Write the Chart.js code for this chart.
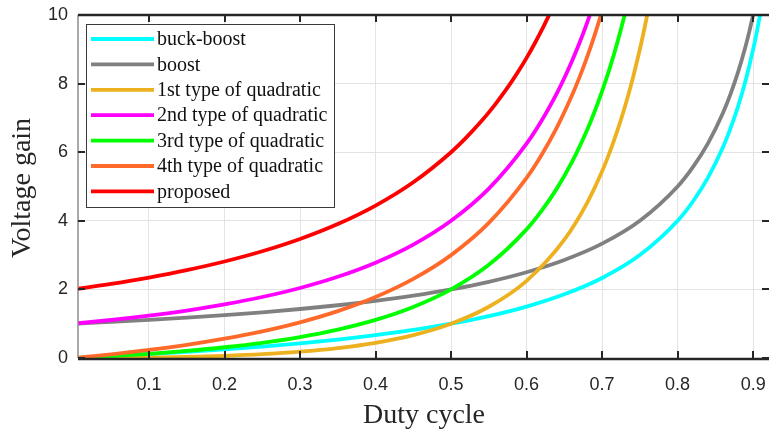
<!DOCTYPE html>
<html>
<head>
<meta charset="utf-8">
<script src="https://cdn.jsdelivr.net/npm/chart.js@4.4.0/dist/chart.umd.min.js"></script>
<style>
  html, body { margin: 0; background: #fff; }
  #wrap { width: 769px; height: 432px; }
</style>
</head>
<body>
<div id="wrap"><canvas id="gainChart" width="769" height="432"></canvas></div>
<script>
// tick labels
const xTicks = [0.1, 0.2, 0.3, 0.4, 0.5, 0.6, 0.7, 0.8, 0.9];
const yTicks = [0, 2, 4, 6, 8, 10];

const seriesNames = ['buck-boost', 'boost', '1st type of quadratic', '2nd type of quadratic',
                     '3rd type of quadratic', '4th type of quadratic', 'proposed'];
const seriesColors = ['#00FFFF', '#808080', '#EDB120', '#FF00FF', '#00FF00', '#FF6A2B', '#FF0000'];

// values (duty cycle -> voltage gain)
const dutyBuckBoost = [0, 0.05, 0.1, 0.15, 0.2, 0.25, 0.3, 0.35, 0.4, 0.45, 0.5, 0.55, 0.6, 0.65, 0.7, 0.75, 0.8, 0.82, 0.84, 0.86, 0.87, 0.88, 0.89, 0.9, 0.905, 0.91];
const gainBuckBoost = [0, 0.053, 0.111, 0.176, 0.25, 0.333, 0.429, 0.538, 0.667, 0.818, 1.0, 1.222, 1.5, 1.857, 2.333, 3.0, 4.0, 4.556, 5.25, 6.143, 6.692, 7.333, 8.091, 9.0, 9.526, 10.11];

const dutyBoost = [0, 0.05, 0.1, 0.15, 0.2, 0.25, 0.3, 0.35, 0.4, 0.45, 0.5, 0.55, 0.6, 0.65, 0.7, 0.75, 0.8, 0.82, 0.84, 0.86, 0.87, 0.88, 0.89, 0.895, 0.9];
const gainBoost = [1.0, 1.053, 1.111, 1.176, 1.25, 1.333, 1.429, 1.538, 1.667, 1.818, 2.0, 2.222, 2.5, 2.857, 3.333, 4.0, 5.0, 5.556, 6.25, 7.143, 7.692, 8.333, 9.091, 9.524, 10.0];

const dutyQuad1 = [0, 0.05, 0.1, 0.15, 0.2, 0.25, 0.3, 0.35, 0.4, 0.45, 0.5, 0.55, 0.6, 0.65, 0.68, 0.7, 0.71, 0.72, 0.73, 0.74, 0.75, 0.755, 0.76];
const gainQuad1 = [0, 0.003, 0.012, 0.031, 0.063, 0.111, 0.184, 0.29, 0.444, 0.669, 1.0, 1.494, 2.25, 3.449, 4.516, 5.444, 5.994, 6.612, 7.311, 8.1, 9.0, 9.497, 10.03];

const dutyQuad2 = [0, 0.05, 0.1, 0.15, 0.2, 0.25, 0.3, 0.35, 0.4, 0.45, 0.5, 0.55, 0.6, 0.62, 0.64, 0.65, 0.66, 0.67, 0.68, 0.685];
const gainQuad2 = [1.0, 1.108, 1.235, 1.384, 1.563, 1.778, 2.041, 2.367, 2.778, 3.306, 4.0, 4.938, 6.25, 6.925, 7.716, 8.163, 8.651, 9.183, 9.766, 10.08];

const dutyQuad3 = [0, 0.05, 0.1, 0.15, 0.2, 0.25, 0.3, 0.35, 0.4, 0.45, 0.5, 0.55, 0.6, 0.62, 0.64, 0.66, 0.68, 0.69, 0.7, 0.71, 0.72, 0.73];
const gainQuad3 = [0, 0.055, 0.123, 0.208, 0.313, 0.444, 0.612, 0.828, 1.111, 1.488, 2.0, 2.716, 3.75, 4.294, 4.938, 5.709, 6.641, 7.18, 7.778, 8.442, 9.184, 10.01];

const dutyQuad4 = [0, 0.05, 0.1, 0.15, 0.2, 0.25, 0.3, 0.35, 0.4, 0.45, 0.5, 0.55, 0.6, 0.62, 0.64, 0.66, 0.67, 0.68, 0.69, 0.7];
const gainQuad4 = [0, 0.108, 0.235, 0.384, 0.563, 0.778, 1.041, 1.367, 1.778, 2.306, 3.0, 3.938, 5.25, 5.925, 6.716, 7.651, 8.183, 8.766, 9.406, 10.11];

const dutyProposed = [0, 0.05, 0.1, 0.15, 0.2, 0.25, 0.3, 0.35, 0.4, 0.45, 0.5, 0.52, 0.54, 0.55, 0.56, 0.57, 0.58, 0.59, 0.6, 0.61, 0.62, 0.63, 0.635];
const gainProposed = [2.0, 2.161, 2.346, 2.561, 2.813, 3.111, 3.469, 3.905, 4.444, 5.124, 6.0, 6.424, 6.9, 7.16, 7.438, 7.734, 8.05, 8.388, 8.75, 9.139, 9.557, 10.01, 10.24];

const dutyArrays = [dutyBuckBoost, dutyBoost, dutyQuad1, dutyQuad2, dutyQuad3, dutyQuad4, dutyProposed];
const gainArrays = [gainBuckBoost, gainBoost, gainQuad1, gainQuad2, gainQuad3, gainQuad4, gainProposed];

const axisColor = '#262626';
const tickFont = { family: '"Liberation Sans", Arial, sans-serif', size: 18 };

// frame, inward ticks, axis titles and the boxed legend inside the plot
const framePlugin = {
  id: 'frame',
  afterDraw(chart) {
    const ctx = chart.ctx;
    const { left, right, top, bottom } = chart.chartArea;
    const xs = chart.scales.x, ys = chart.scales.y;
    ctx.save();

    // left edge (grey), top / bottom (dark)
    ctx.strokeStyle = '#8c8c8c';
    ctx.lineWidth = 1.5;
    ctx.beginPath(); ctx.moveTo(left, top); ctx.lineTo(left, bottom); ctx.stroke();
    ctx.strokeStyle = axisColor;
    ctx.lineWidth = 2.5;
    ctx.beginPath();
    ctx.moveTo(left, bottom + 1); ctx.lineTo(right, bottom + 1);
    ctx.moveTo(left, top); ctx.lineTo(right, top);
    ctx.stroke();

    // ticks pointing inward
    ctx.lineWidth = 2;
    ctx.beginPath();
    xTicks.forEach(v => {
      const px = Math.round(xs.getPixelForValue(v));
      ctx.moveTo(px, bottom); ctx.lineTo(px, bottom - 7);
      ctx.moveTo(px, top); ctx.lineTo(px, top + 7);
    });
    yTicks.forEach(v => {
      const py = Math.round(ys.getPixelForValue(v));
      ctx.moveTo(left, py); ctx.lineTo(left + 7, py);
      ctx.moveTo(right, py); ctx.lineTo(right - 7, py);
    });
    ctx.stroke();

    // axis titles
    ctx.fillStyle = axisColor;
    ctx.font = '28px "Liberation Serif", "Times New Roman", serif';
    ctx.textAlign = 'center';
    ctx.textBaseline = 'middle';
    ctx.fillText('Duty cycle', 424, 416);
    ctx.save();
    ctx.translate(23, 188);
    ctx.rotate(-Math.PI / 2);
    ctx.fillText('Voltage gain', 0, 0);
    ctx.restore();

    // legend
    ctx.fillStyle = '#fff';
    ctx.fillRect(86, 24, 248, 183);
    ctx.strokeStyle = '#3a3a3a';
    ctx.lineWidth = 1;
    ctx.strokeRect(86.5, 24.5, 248, 183);
    ctx.font = '20px "Liberation Serif", "Times New Roman", serif';
    ctx.textAlign = 'left';
    seriesNames.forEach((name, i) => {
      const y = 39 + i * 25.4;
      ctx.strokeStyle = seriesColors[i];
      ctx.lineWidth = 3.8;
      ctx.beginPath(); ctx.moveTo(91, y); ctx.lineTo(154, y); ctx.stroke();
      ctx.fillStyle = '#111';
      ctx.fillText(name, 157, y + 1);
    });
    ctx.restore();
  }
};

new Chart(document.getElementById('gainChart'), {
  type: 'line',
  data: {
    datasets: seriesNames.map((name, i) => ({
      label: name,
      data: dutyArrays[i].map((d, k) => ({ x: d, y: gainArrays[i][k] })),
      borderColor: seriesColors[i],
      backgroundColor: seriesColors[i],
      borderWidth: 3.8,
      pointRadius: 0,
      fill: false,
      cubicInterpolationMode: 'monotone',
      order: seriesNames.length - i
    }))
  },
  options: {
    responsive: false,
    animation: false,
    devicePixelRatio: 1,
    layout: { padding: { top: 15, right: 0, left: 0, bottom: 0 } },
    plugins: {
      legend: { display: false },
      tooltip: { enabled: false }
    },
    scales: {
      x: {
        type: 'linear',
        min: 0.006,
        max: 0.921,
        afterBuildTicks: s => { s.ticks = xTicks.map(v => ({ value: v })); },
        afterFit: s => { s.height = 74; s.paddingLeft = 0; s.paddingRight = 0; },
        ticks: {
          font: tickFont, color: axisColor, padding: 16,
          maxRotation: 0, autoSkip: false,
          callback: v => String(v)
        },
        grid: { color: '#e3e3e3', lineWidth: 1, drawTicks: false },
        border: { display: false }
      },
      y: {
        min: 0,
        max: 10,
        afterBuildTicks: s => { s.ticks = yTicks.map(v => ({ value: v })); },
        afterFit: s => { s.width = 78; s.paddingTop = 0; s.paddingBottom = 0; },
        ticks: { font: tickFont, color: axisColor, padding: 10, callback: v => String(v) },
        grid: { color: '#e3e3e3', lineWidth: 1, drawTicks: false },
        border: { display: false }
      }
    }
  },
  plugins: [framePlugin]
});
</script>
</body>
</html>
